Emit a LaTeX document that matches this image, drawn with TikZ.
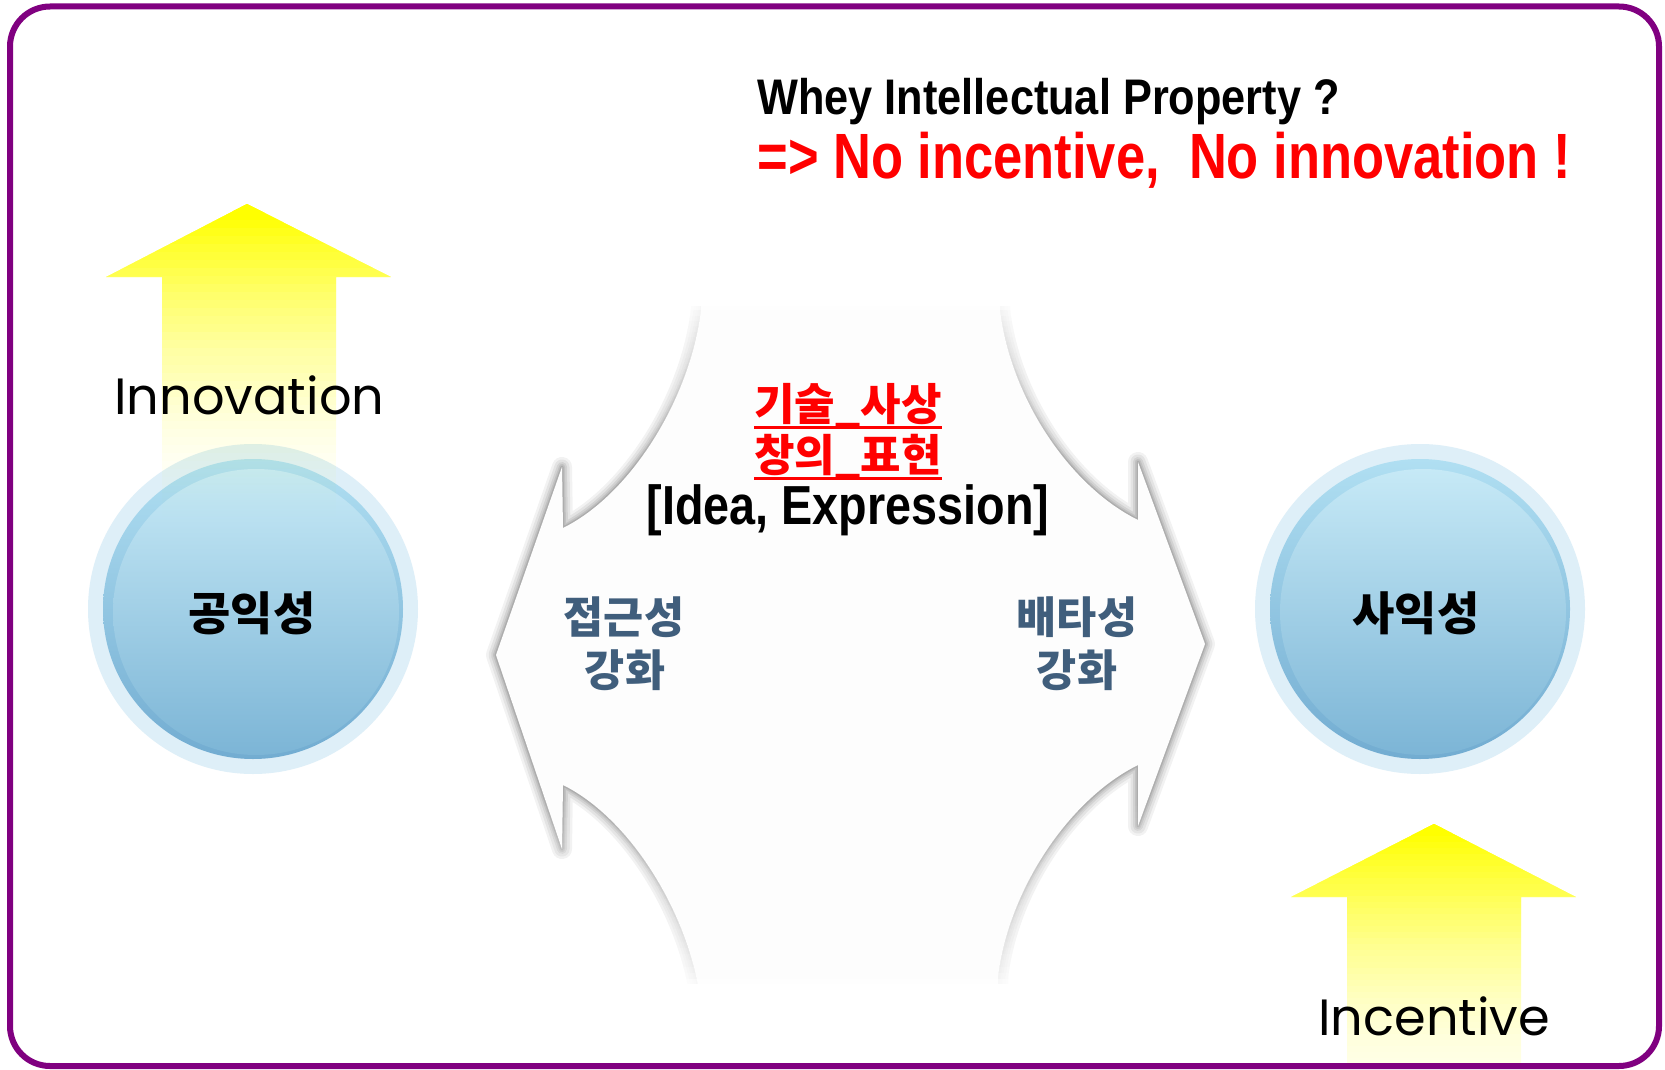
\documentclass[tikz,border=0pt]{standalone}
\usepackage{fontspec}
\setmainfont{Liberation Sans}
\newfontfamily\titlefont[FakeStretch=0.866]{Liberation Sans}
\newfontfamily\redfont[FakeStretch=0.82]{Liberation Sans}
\newfontfamily\ideafont[FakeStretch=0.85]{Liberation Sans}
\newfontfamily\kr{Noto Sans CJK KR}
\newfontfamily\handfont{Poppins}
\definecolor{framepurple}{RGB}{128,0,128}
\definecolor{steel}{RGB}{64,94,124}
\definecolor{halocol}{RGB}{222,239,248}
\definecolor{shapefill}{RGB}{253,253,253}
\definecolor{pureyellow}{RGB}{255,255,0}
\definecolor{purered}{RGB}{255,0,0}
\definecolor{purewhite}{RGB}{255,255,255}
\newcommand\centerpath{(496,655) -- (562,467) -- (563,528) .. controls (630,495) and (690,400) .. (701,310) -- (701,280) -- (1000,280) -- (1000,310) .. controls (1011,400) and (1071,487) .. (1138,520) -- (1138,462) -- (1205,644) -- (1138,826) -- (1138,765) .. controls (1071,798) and (1009,887) .. (998,977) -- (998,1012) -- (701,1012) -- (701,1004) .. controls (690,914) and (630,818) .. (563,785) -- (562,849) -- cycle}
\newcommand\leftarrowpath{(247,204) -- (391,277) -- (336,277) -- (336,525) -- (162,525) -- (162,277) -- (106,277) -- cycle}
\newcommand\rightarrowpath{(1434,824) -- (1576,897) -- (1521,897) -- (1521,1064) -- (1347,1064) -- (1347,897) -- (1291,897) -- cycle}
\tikzset{
  halo/.style={circle, fill=halocol, minimum size=165pt, inner sep=0pt},
  ball/.style={circle, minimum size=150pt, inner sep=0pt, shade, top color={rgb,255:red,176;green,223;blue,242}, bottom color={rgb,255:red,114;green,172;blue,209}},
  core/.style={circle, minimum size=143pt, inner sep=0pt, shade, top color={rgb,255:red,198;green,233;blue,246}, bottom color={rgb,255:red,124;green,181;blue,214}},
  balltext/.style={anchor=base, inner sep=0pt, font=\kr\bfseries\fontsize{23}{28}\selectfont},
  redkr/.style={anchor=base, inner sep=0pt, text=purered, font=\kr\bfseries\fontsize{22}{26}\selectfont},
  steeltext/.style={anchor=base, inner sep=0pt, text=steel, font=\kr\bfseries\fontsize{21.8}{25}\selectfont},
  handtext/.style={anchor=base west, inner sep=0pt, font=\handfont\fontsize{25.5}{30}\selectfont},
  uline/.style={purered, line width=1.5pt},
}
\begin{document}
\begin{tikzpicture}[x=0.5pt, y=-0.5pt]
\useasboundingbox (0,0) rectangle (1665,1070);
\fill[purewhite] (0,0) rectangle (1665,1070);

% central double arrow with soft glow
\foreach \w/\op in {10/0.05, 7.5/0.06, 5/0.07, 3/0.08, 1.5/0.1} {
  \draw[black, opacity=\op, line width=\w pt, line join=round] \centerpath;
}
\fill[shapefill] \centerpath;
% fade the upper ends to white
\fill[purewhite] (530,262) rectangle (1175,306);
\foreach \j in {1,...,30} {
  \pgfmathsetmacro\Tj{(\j-0.5)/30}
  \pgfmathsetmacro\Tn{\j==30 ? 1 : (\j+0.5)/30}
  \pgfmathsetmacro\aj{1-\Tj/\Tn}
  \pgfmathsetmacro\yb{305+\j*5.33}
  \fill[purewhite, opacity=\aj] (530,262) rectangle (1175,\yb);
}
% fade the lower ends to white
\fill[purewhite] (530,984) rectangle (1175,1026);
\foreach \j in {1,...,30} {
  \pgfmathsetmacro\Tj{(\j-0.5)/30}
  \pgfmathsetmacro\Tn{\j==30 ? 1 : (\j+0.5)/30}
  \pgfmathsetmacro\aj{1-\Tj/\Tn}
  \pgfmathsetmacro\yt{985-\j*6.17}
  \fill[purewhite, opacity=\aj] (530,1026) rectangle (1175,\yt);
}

% circles
\node[halo] (pubhalo) at (253,609) {};
\node[ball] (pubball) at (253,609) {};
\node[core] (pubcore) at (256,612) {};
\node[halo] (prihalo) at (1420,609) {};
\node[ball] (priball) at (1420,609) {};
\node[core] (pricore) at (1423,612) {};

% yellow arrows (opacity fading built from layers)
\begin{scope}
\clip \leftarrowpath;
\foreach \j in {1,...,40} {
  \pgfmathsetmacro\Tj{1-(1-(\j-0.5)/40)^1.8}
  \pgfmathsetmacro\Tn{\j==40 ? 1 : 1-(max(1-(\j+0.5)/40,0.00001))^1.8}
  \pgfmathsetmacro\aj{1-\Tj/\Tn}
  \pgfmathsetmacro\yb{204+\j*8.025}
  \fill[pureyellow, opacity=\aj] (100,200) rectangle (400,\yb);
}
\end{scope}
\begin{scope}
\clip \rightarrowpath;
\foreach \j in {1,...,40} {
  \pgfmathsetmacro\Tj{0.9*(1-(1-(\j-0.5)/40)^1.5)}
  \pgfmathsetmacro\Tn{\j==40 ? 1 : 0.9*(1-(max(1-(\j+0.5)/40,0.00001))^1.5)}
  \pgfmathsetmacro\aj{1-\Tj/\Tn}
  \pgfmathsetmacro\yb{824+\j*6}
  \fill[pureyellow, opacity=\aj] (1280,820) rectangle (1590,\yb);
}
\end{scope}

% texts
\node[anchor=base west, inner sep=0pt, font=\titlefont\bfseries\fontsize{25}{30}\selectfont] (question) at (757,115) {Whey Intellectual Property ?};
\node[anchor=base west, inner sep=0pt, text=purered, font=\redfont\bfseries\fontsize{32}{36}\selectfont] (answer) at (757,178) {=> No incentive,\ \ No innovation !};

\node[redkr] (tech) at (848,420) {기술\_사상};
\node[redkr] (creat) at (848,471) {창의\_표현};
\draw[uline] ([yshift=-3.5pt]tech.base west) -- ([yshift=-3.5pt]tech.base east);
\draw[uline] ([yshift=-3.5pt]creat.base west) -- ([yshift=-3.5pt]creat.base east);
\node[anchor=base, inner sep=0pt, font=\ideafont\bfseries\fontsize{27.5}{30}\selectfont] (idea) at (848,524) {[Idea, Expression]};

\node[steeltext] (acc) at (624,633) {접근성};
\node[steeltext] (accs) at (625,686) {강화};
\node[steeltext] (exc) at (1077,633) {배타성};
\node[steeltext] (excs) at (1077,686) {강화};

\node[balltext] (pubtxt) at (252,630) {공익성};
\node[balltext] (pritxt) at (1416,630) {사익성};

\node[handtext] (innov) at (114,414) {Innovation};
\node[handtext] (incent) at (1318,1035) {Incentive};

% frame
\draw[framepurple, line width=3pt, rounded corners=20pt] (10,6.5) rectangle (1659,1066);
\end{tikzpicture}
\end{document}
